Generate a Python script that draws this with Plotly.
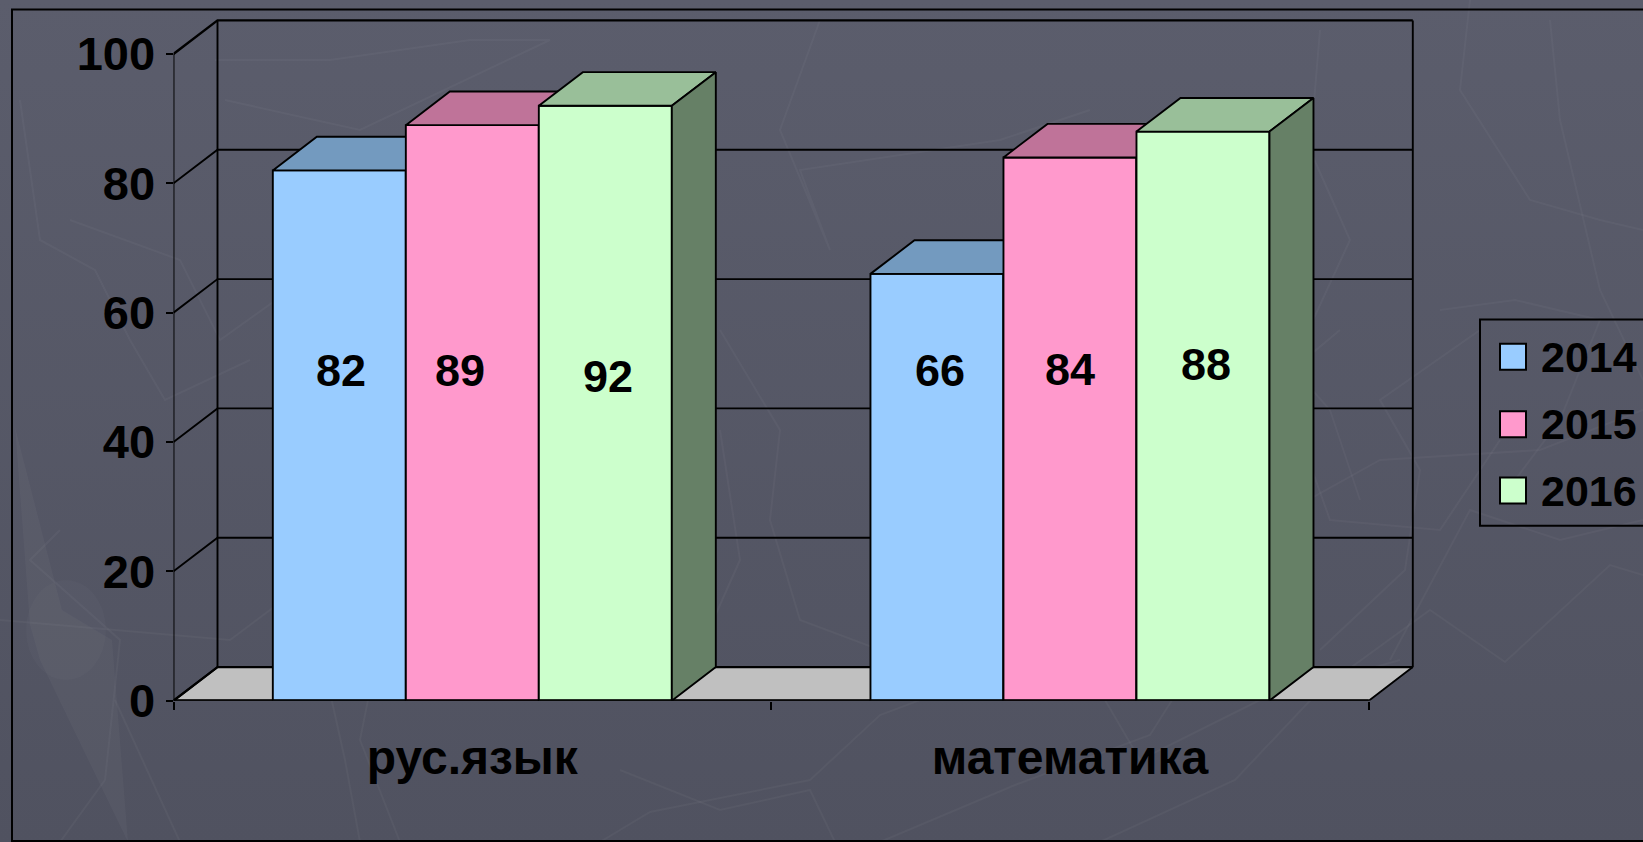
import base64
import plotly.graph_objects as go

W, H = 1643, 842

# ---- data ----
categories = ["рус.язык", "математика"]
years = ["2014", "2015", "2016"]
values_2014 = [82, 66]
values_2015 = [89, 84]
values_2016 = [92, 88]
y_ticks = [0, 20, 40, 60, 80, 100]

# ---- colours ----
front_colors = ["#99CCFF", "#FF99CC", "#CCFFCC"]
top_colors = ["#739ABF", "#BF7399", "#99BF99"]
side_colors = ["#4D6680", "#804D66", "#668066"]

# ---- plot geometry (pixels of the page) ----
X0_PX, Y0_PX = 173.5, 700.7
UX = 597.65           # pixels per category
UY = 6.467            # pixels per value unit
DX = 44 / UX          # oblique depth, in axis units
DY = 33.6 / UY
BAR_W = 133 / UX
GROUP_X = [0.5, 1.5]

X_RANGE = [0, (W - X0_PX) / UX]
Y_RANGE = [0, Y0_PX / UY]
X_DOMAIN = [X0_PX / W, 1]
Y_DOMAIN = [(H - Y0_PX) / H, 1]

# data-label placement (the source has hand-moved labels)
label_x_px = [[340.6, 940], [460, 1070], [608, 1206]]
label_y_px = [[370, 370], [370, 369], [376, 364]]

BLACK = "#000000"
FONT = "Liberation Sans"
LW = 1.9


def px(x):
    return x / W


def py(y):
    return 1 - y / H


# ---- decorative background of the slide ----
bg_lines = [
    "1100,842 1235,780 1320,690 1430,610 1505,662 1610,565 1643,575",
    "880,842 1015,785 1150,735 1210,640 1240,600 1290,510 1380,460 1540,450 1643,410",
    "600,842 650,812 810,780 880,715 1000,670",
    "360,842 345,760 325,670 350,610 420,640 530,600",
    "620,770 720,810 810,790 835,842",
    "1390,660 1470,510 1560,540 1643,520",
    "1480,330 1380,400 1420,470 1405,570 1320,650",
    "1440,310 1515,300 1600,320 1560,420 1500,500",
    "1340,330 1280,380 1330,520 1440,530 1500,440",
    "720,330 780,430 770,520 800,620 880,650 960,610",
    "1260,110 1300,170 1250,320 1330,410 1360,500",
    "1470,0 1460,90 1530,200 1600,220 1643,230",
    "1320,30 1310,150 1350,240 1290,370",
    "1550,20 1560,120 1600,290 1643,380",
    "820,20 780,130 830,250 800,170 1000,140 1090,110",
    "215,60 330,60 470,40 550,40 360,130 225,100",
    "20,100 40,240 95,270 130,340 165,400 250,360",
    "70,220 180,260 220,340 290,290 400,350 460,500",
    "480,150 430,260 500,410 440,520 360,610",
    "60,530 30,560 120,640 105,780 60,842",
    "0,620 230,640 310,580 380,640 360,740 400,842",
    "115,700 180,842",
    "590,600 700,650 740,560 720,430",
    "1070,640 1140,760 1260,700 1400,660",
]
poly = "".join(
    f'<polyline points="{p}" fill="none" stroke="#ffffff" stroke-opacity="0.035" stroke-width="2"/>'
    for p in bg_lines
)
needle = (
    '<polygon points="15,427 62,610 112,640 128,842 40,660 30,625" fill="#ffffff" fill-opacity="0.03"/>'
    '<ellipse cx="66" cy="630" rx="40" ry="50" fill="#ffffff" fill-opacity="0.02"/>'
)
svg = (
    f'<svg xmlns="http://www.w3.org/2000/svg" width="{W}" height="{H}" viewBox="0 0 {W} {H}">'
    '<defs><linearGradient id="g" x1="0" y1="0" x2="0" y2="1">'
    '<stop offset="0" stop-color="#5B5D6C"/><stop offset="1" stop-color="#505260"/>'
    '</linearGradient></defs>'
    f'<rect width="{W}" height="{H}" fill="url(#g)"/>{needle}{poly}</svg>'
)
bg_uri = "data:image/svg+xml;base64," + base64.b64encode(svg.encode()).decode()

fig = go.Figure()


def line_trace(xs, ys, width=LW, xaxis="x", yaxis="y"):
    return go.Scatter(
        x=xs, y=ys, mode="lines", line=dict(color=BLACK, width=width),
        hoverinfo="skip", showlegend=False, cliponaxis=False,
        xaxis=xaxis, yaxis=yaxis,
    )


def face(xs, ys, color, xaxis, yaxis):
    return go.Scatter(
        x=xs + xs[:1], y=ys + ys[:1], mode="lines", fill="toself", fillcolor=color,
        line=dict(color=BLACK, width=LW), hoverinfo="skip", showlegend=False,
        cliponaxis=False, xaxis=xaxis, yaxis=yaxis,
    )


# ---- floor, walls and gridlines ----
x_end = len(categories)
fig.add_trace(face([0, x_end, x_end + DX, DX], [0, 0, DY, DY], "#C0C0C0", "x", "y"))
for t in y_ticks:
    fig.add_trace(line_trace([0, DX, x_end + DX], [t, t + DY, t + DY],
                             width=2.4 if t in (0, 100) else LW))
fig.add_trace(line_trace([0, 0], [0, y_ticks[-1]]))
fig.add_trace(line_trace([DX, DX], [DY, y_ticks[-1] + DY]))
fig.add_trace(line_trace([x_end + DX, x_end + DX], [DY, y_ticks[-1] + DY]))

# ---- bars: each series sits in its own overlaid subplot so it hides the one before ----
series = [values_2014, values_2015, values_2016]
for i, (name, vals) in enumerate(zip(years, series)):
    ax_x = ["x2", "x3", "x4"][i]
    ax_y = ["y2", "y3", "y4"][i]
    lefts = [g + (i - 1.5) * BAR_W for g in GROUP_X]
    fig.add_trace(go.Bar(
        x=GROUP_X, y=vals, name=name, width=BAR_W,
        offset=(i - 1.5) * BAR_W,
        marker=dict(color=front_colors[i], line=dict(color=BLACK, width=LW)),
        hoverinfo="skip", showlegend=False, xaxis=ax_x, yaxis=ax_y,
    ))
    for l, v in zip(lefts, vals):
        r = l + BAR_W
        fig.add_trace(face([l, l + DX, r + DX, r], [v, v + DY, v + DY, v],
                           top_colors[i], ax_x, ax_y))
        fig.add_trace(face([r, r + DX, r + DX, r], [v, v + DY, DY, 0],
                           side_colors[i], ax_x, ax_y))
# heavy category-axis line over everything
fig.add_trace(line_trace([0, x_end], [0, 0], width=2.8, xaxis="x4", yaxis="y4"))

# ---- data labels ----
annotations = []
for i, vals in enumerate(series):
    for j, v in enumerate(vals):
        annotations.append(dict(
            x=(label_x_px[i][j] - X0_PX) / UX, y=(Y0_PX - label_y_px[i][j]) / UY,
            xref="x", yref="y", text=f"<b>{v}</b>", showarrow=False,
            font=dict(family=FONT, size=45, color=BLACK),
        ))

# ---- legend and frames ----
shapes = [
    dict(type="rect", xref="paper", yref="paper",
         x0=px(12), x1=px(W + 20), y0=py(841), y1=py(9.5),
         line=dict(color=BLACK, width=2), layer="below"),
    dict(type="rect", xref="paper", yref="paper",
         x0=px(1480), x1=px(W + 20), y0=py(525.7), y1=py(319.5),
         line=dict(color=BLACK, width=2), layer="below"),
]
legend_y = [356.7, 424.3, 490.5]
for name, color, yc in zip(years, front_colors, legend_y):
    shapes.append(dict(
        type="rect", xref="paper", yref="paper",
        x0=px(1500), x1=px(1526), y0=py(yc + 13), y1=py(yc - 13),
        fillcolor=color, line=dict(color=BLACK, width=2), layer="below",
    ))
    annotations.append(dict(
        x=px(1539), y=py(yc), xref="paper", yref="paper", xanchor="left",
        text=f"<b>{name}</b>", showarrow=False,
        font=dict(family=FONT, size=43, color=BLACK),
    ))

hidden_x = dict(domain=X_DOMAIN, range=X_RANGE, visible=False, fixedrange=True, overlaying="x", automargin=False)
hidden_y = dict(domain=Y_DOMAIN, range=Y_RANGE, visible=False, fixedrange=True, overlaying="y", automargin=False)

fig.update_layout(
    width=W, height=H, autosize=False,
    margin=dict(l=0, r=0, t=0, b=0),
    paper_bgcolor="#555766", plot_bgcolor="rgba(0,0,0,0)",
    showlegend=False, barmode="overlay",
    xaxis=dict(
        domain=X_DOMAIN, range=X_RANGE, showgrid=False, zeroline=False, showline=False,
        automargin=False,
        tickmode="array", tickvals=GROUP_X, ticktext=[f"<b>{c}</b>" for c in categories],
        ticks="", ticklabelstandoff=24, fixedrange=True,
        tickfont=dict(family=FONT, size=48, color=BLACK),
        minor=dict(tick0=0, dtick=1, ticks="outside", ticklen=8, tickwidth=LW, tickcolor=BLACK),
    ),
    yaxis=dict(
        domain=Y_DOMAIN, range=Y_RANGE, showgrid=False, zeroline=False, showline=False,
        automargin=False,
        tickmode="array", tickvals=y_ticks, ticktext=[f"<b>{t}</b>" for t in y_ticks],
        ticks="outside", ticklen=7, tickwidth=LW, tickcolor=BLACK, fixedrange=True,
        ticklabelstandoff=1,
        tickfont=dict(family=FONT, size=47, color=BLACK),
    ),
    xaxis2=hidden_x, xaxis3=hidden_x, xaxis4=hidden_x,
    yaxis2=hidden_y, yaxis3=hidden_y, yaxis4=hidden_y,
    shapes=shapes, annotations=annotations,
    images=[dict(source=bg_uri, xref="paper", yref="paper", x=0, y=1, sizex=1, sizey=1,
                 sizing="stretch", layer="below", xanchor="left", yanchor="top")],
)

fig.write_html(
    "out.html",
    config=dict(displayModeBar=False),
    post_script="document.body.style.margin='0';document.documentElement.style.overflow='hidden';",
)
